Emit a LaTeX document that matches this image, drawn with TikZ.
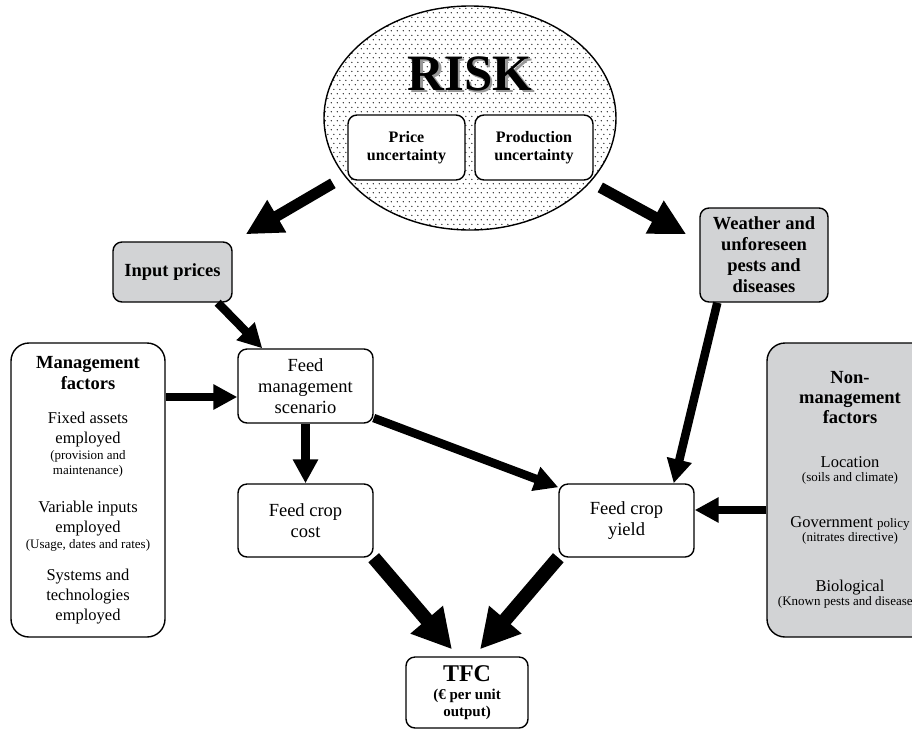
\documentclass[tikz,border=0pt]{standalone}
\usepackage{fontspec}
\setmainfont{Liberation Serif}
\usetikzlibrary{arrows.meta,shapes.geometric,patterns}

\definecolor{boxgray}{RGB}{210,211,213}

% sparse dot screen for the risk ellipse
\pgfdeclarepatternformonly{riskdots}{\pgfqpoint{0pt}{0pt}}{\pgfqpoint{6pt}{9.4pt}}{\pgfqpoint{6pt}{9.4pt}}{%
  \pgfpathcircle{\pgfqpoint{1.5pt}{2.35pt}}{0.75pt}%
  \pgfpathcircle{\pgfqpoint{4.5pt}{7.05pt}}{0.75pt}%
  \pgfusepath{fill}}

\newcommand{\riskfont}{\bfseries\fontsize{51}{56}\selectfont}
\newcommand{\hdfont}{\bfseries\fontsize{18.5}{21}\selectfont}
\newcommand{\bdfont}{\bfseries\fontsize{16}{18}\selectfont}
\newcommand{\rgfont}{\fontsize{18.5}{21}\selectfont}
\newcommand{\factfont}{\fontsize{16.5}{20}\selectfont}
\newcommand{\smfont}{\fontsize{13}{15}\selectfont}
\newcommand{\tfcfont}{\bfseries\fontsize{24}{27}\selectfont}
\newcommand{\tfcsub}{\bfseries\fontsize{15}{17}\selectfont}

\begin{document}
\begin{tikzpicture}[x=1pt, y=-1pt,
    box/.style={draw, line width=1.4pt, rounded corners=9pt, fill=white, align=center, inner sep=0pt},
    greybox/.style={box, fill=boxgray},
    bigbox/.style={box, rounded corners=18pt, minimum width=154pt, minimum height=294pt, font=\factfont},
    midarr/.style={line width=8.5pt, -{Triangle[length=24pt,width=24pt]}},
    riskarr/.style={line width=11pt, -{Triangle[length=36pt,width=35pt]}},
    tfcarr/.style={line width=14pt, -{Triangle[length=39pt,width=40pt]}}
  ]
  \useasboundingbox (0,0) rectangle (912,729);
  \clip (0,0) rectangle (912,729);

  % risk ellipse
  \node[ellipse, draw, line width=1.4pt, pattern=riskdots, minimum width=292pt, minimum height=224pt, inner sep=0pt] (risk) at (470,118) {};
  \node[font=\riskfont, text=black!40] (risksh) at (472.5,76) {RISK};
  \node[font=\riskfont] (risklbl) at (470,74) {RISK};
  \node[box, minimum width=117pt, minimum height=65pt, font=\bdfont] (price) at (406.5,147.5) {Price\\uncertainty};
  \node[box, minimum width=118pt, minimum height=65pt, font=\bdfont] (prod) at (534,147.5) {Production\\uncertainty};

  % boxes
  \node[greybox, minimum width=119pt, minimum height=60pt, font=\hdfont] (inp) at (172.5,272) {Input prices};
  \node[greybox, minimum width=128pt, minimum height=94pt, font=\hdfont] (weather) at (764,255) {Weather and\\unforeseen\\pests and\\diseases};
  \node[box, minimum width=135pt, minimum height=74pt, font=\rgfont] (scen) at (305.5,386) {Feed\\management\\scenario};
  \node[box, minimum width=135pt, minimum height=73pt, font=\rgfont] (cost) at (305.5,520.5) {Feed crop\\cost};
  \node[box, minimum width=135pt, minimum height=73pt, font=\rgfont] (yield) at (626.5,520.5) {Feed crop\\yield};
  \node[box, minimum width=122pt, minimum height=71pt, font=\tfcsub] (tfc) at (467,692.5) {{\tfcfont TFC}\\[1pt](€ per unit\\output)};

  \node[bigbox] (mgmt) at (88,490) {%
    {\hdfont Management}\\[1pt]
    {\hdfont factors}\\[14pt]
    Fixed assets\\
    employed\\[-4pt]
    {\smfont (provision and}\\[-5pt]
    {\smfont maintenance)}\\[18pt]
    Variable inputs\\
    employed\\[-4pt]
    {\smfont (Usage, dates and rates)}\\[12pt]
    Systems and\\
    technologies\\
    employed};
  \node[bigbox, fill=boxgray, minimum width=166pt] (nonm) at (850,490) {%
    {\hdfont Non-}\\
    {\hdfont management}\\
    {\hdfont factors}\\[24pt]
    Location\\[-6pt]
    {\smfont (soils and climate)}\\[26pt]
    Government {\smfont policy}\\[-6pt]
    {\smfont (nitrates directive)}\\[30pt]
    Biological\\[-6pt]
    {\smfont (Known pests and diseases)}};

  % arrows
  \draw[riskarr, shorten <=13.6pt] (risk.205) -- ([xshift=13pt,yshift=7pt]inp.north east);
  \draw[riskarr, shorten <=11pt] (risk.332) -- ([xshift=-13pt,yshift=-27pt]weather.north west);
  \draw[midarr] ([xshift=-15pt]inp.south east) -- ([xshift=25pt]scen.north west);
  \path ([yshift=-11pt]scen.west) coordinate (scenin);
  \draw[midarr] (mgmt.east |- scenin) -- (scenin);
  \draw[midarr] (scen) -- (cost);
  \draw[midarr] ([yshift=-32pt]scen.east) -- ([yshift=-4pt]yield.north west);
  \draw[midarr] ([xshift=18pt]weather.south west) -- ([xshift=-21pt]yield.north east);
  \path ([yshift=10.5pt]yield.east) coordinate (yieldin);
  \draw[midarr] (nonm.west |- yieldin) -- (yieldin);
  \draw[tfcarr] (cost.south east) -- ([xshift=-15pt,yshift=7pt]tfc.north);
  \draw[tfcarr] (yield.south west) -- ([xshift=13pt,yshift=7pt]tfc.north);
\end{tikzpicture}
\end{document}
